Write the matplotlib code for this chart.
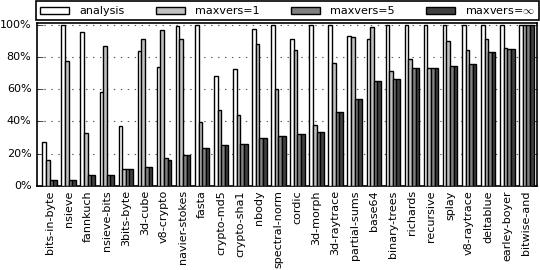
import numpy as np
import matplotlib
matplotlib.use('Agg')
import matplotlib.pyplot as plt
plt.style.use('classic')

benchmarks = ['bits-in-byte', 'nsieve', 'fannkuch', 'nsieve-bits', '3bits-byte',
              '3d-cube', 'v8-crypto', 'navier-stokes', 'fasta', 'crypto-md5',
              'crypto-sha1', 'nbody', 'spectral-norm', 'cordic', '3d-morph',
              '3d-raytrace', 'partial-sums', 'base64', 'binary-trees', 'richards',
              'recursive', 'splay', 'v8-raytrace', 'deltablue', 'earley-boyer',
              'bitwise-and']

analysis = [27, 100, 95.5, 58, 37, 83.5, 74, 99, 100, 68, 72.5, 97.5, 100,
            91, 100, 100, 93, 91, 100, 100, 100, 100, 100, 100, 100, 100]
maxvers1 = [16, 77.5, 33, 87, 10.5, 91, 96.5, 91, 39.5, 47, 44, 88, 60,
            84.5, 37.5, 76, 92, 98.5, 71, 78.5, 73, 89.5, 84, 91, 85.5, 100]
maxvers5 = [3.5, 3.6, 6.6, 7, 10.5, 11.8, 17.6, 19, 23.6, 25.5, 26, 29.8, 31,
            32, 33.5, 46, 54, 65, 66, 73, 73, 74.3, 75.6, 83, 84.7, 100]
maxversinf = [3.5, 3.6, 6.6, 7, 10.5, 11.8, 16, 19, 23.6, 25.5, 26, 29.8, 31,
              32, 33.5, 46, 54, 65, 66, 73, 73, 74.3, 75.6, 83, 84.7, 100]

series = [analysis, maxvers1, maxvers5, maxversinf]
names = ['analysis', 'maxvers=1', 'maxvers=5', 'maxvers=$\\infty$']
colors = ['white', '#c0c0c0', '#808080', '#404040']

fig = plt.figure(figsize=(5.4, 2.7), facecolor='white')
ax = fig.add_axes([0.0685, 0.311, 0.926, 0.603])
ax.set_facecolor('white')

x = np.arange(len(benchmarks))
w = 0.19
for k, vals in enumerate(series):
    ax.bar(x + k * w, vals, w, align='edge', color=colors[k],
           edgecolor='black', linewidth=1.0, label=names[k], zorder=3)

ax.set_xlim(-0.28, len(benchmarks) - 1 + 4 * w + 0.18)
ax.set_ylim(0, 100.8)
ax.set_yticks([0, 20, 40, 60, 80, 100])
ax.set_yticklabels(['%d%%' % v for v in [0, 20, 40, 60, 80, 100]], fontsize=8)
ax.set_xticks(x + 2 * w)
ax.set_xticklabels(benchmarks, rotation=90, fontsize=8)
ax.tick_params(axis='x', length=0, pad=3)
ax.tick_params(axis='y', direction='in', length=4, right=True, left=True, pad=4)
ax.yaxis.grid(True, linestyle=(0, (1, 4)), color='#555555', linewidth=0.8, zorder=0)
ax.xaxis.grid(False)
ax.set_axisbelow(True)
for s in ax.spines.values():
    s.set_linewidth(1.2)

leg = ax.legend(loc='lower left', bbox_to_anchor=(-0.001, 1.02, 1.004, 0.11),
                ncol=4, mode='expand', fontsize=8, handlelength=2.6,
                handleheight=0.6, borderaxespad=0, frameon=True, fancybox=False,
                borderpad=0.35, columnspacing=1.0, handletextpad=0.9)
leg.get_frame().set_edgecolor('black')
leg.get_frame().set_linewidth(1.2)

fig.savefig('out.png', dpi=100, facecolor='white')
